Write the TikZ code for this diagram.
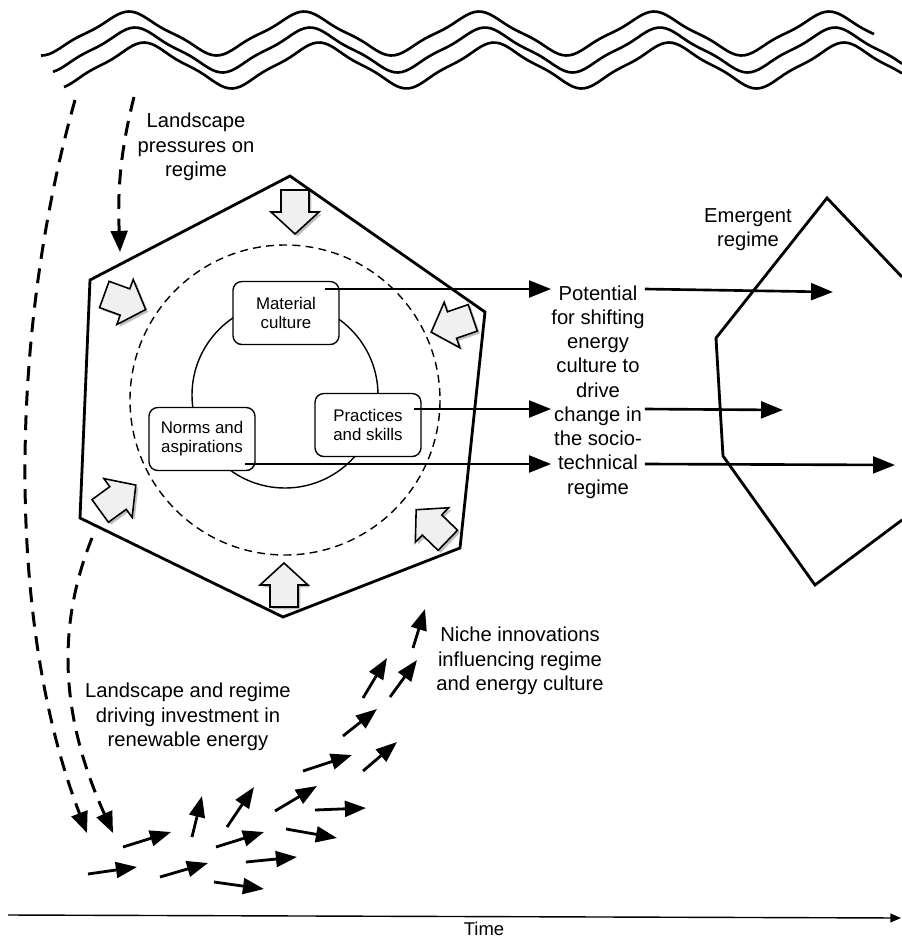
\documentclass[tikz,border=0pt]{standalone}
\usepackage{fontspec}
\setmainfont{Liberation Sans}
\usetikzlibrary{arrows.meta,shadows}

\tikzset{barrow/.pic={
  \draw[line width=0.9pt, fill=gray!12, line join=miter,
        drop shadow={opacity=0.5, shadow xshift=1.4pt, shadow yshift=-1.4pt}]
    (-22,-14) -- (0,-14) -- (0,-24) -- (22,0) -- (0,24) -- (0,14) -- (-22,14) -- cycle;
}}

\begin{document}
\begin{tikzpicture}[x=0.02cm,y=-0.02cm,
  declare function={tw(\t)=(cos(\t)+cos(3*\t)/9)/1.111;}]
\tikzstyle{wave} = [line width=1.5pt, black]
\tikzstyle{regime} = [line width=1.6pt, black, line join=miter]
\tikzstyle{dasharrow} = [line width=1.7pt, dash pattern=on 8.5pt off 5.5pt, -{Triangle[length=12pt,width=9.5pt]}]
\tikzstyle{harrow} = [line width=1.5pt, -{Triangle[length=12.5pt,width=9.6pt]}]
\tikzstyle{niche} = [line width=1.6pt, -{Triangle[length=12pt,width=9pt]}]
\tikzstyle{cult} = [draw, line width=0.8pt, rounded corners=5pt, fill=white, minimum width=2.12cm, minimum height=1.26cm, align=center, inner sep=1pt, font=\fontsize{9.6}{10.8}\selectfont]
\tikzstyle{lbl} = [align=center, inner sep=0pt, font=\fontsize{11.5}{13.8}\selectfont]
\useasboundingbox (0,0) rectangle (902,941);

% landscape waves
\draw[wave] plot[domain=41:874, samples=220, smooth] (\x,{33.5-22*tw((\x-129)/175*360)});
\draw[wave] plot[domain=53:902, samples=220, smooth] (\x,{50-22.5*tw((\x-135)/175*360)});
\draw[wave] plot[domain=64:902, samples=220, smooth] (\x,{65.5-23*tw((\x-144)/175*360)});

% current regime
\draw[regime] (290,176) -- (485,312) -- (460,548) -- (283,617) -- (80,518) -- (90,280) -- cycle;
\draw[line width=0.8pt, dash pattern=on 4.5pt off 3pt] (285,400) circle (155);
\draw[line width=0.8pt] (285,395) circle (93);

\pic[rotate=-90] at (295,212) {barrow};
\pic[rotate=-20] at (125,302) {barrow};
\pic[rotate=199] at (452,325) {barrow};
\pic[rotate=36] at (118,498) {barrow};
\pic[rotate=136] at (432,525) {barrow};
\pic[rotate=90] at (284,585) {barrow};

\node[cult] (mat) at (286,313) {Material\\culture};
\node[cult] (prac) at (368,425) {Practices\\and skills};
\node[cult] (norm) at (202,439) {Norms and\\aspirations};

% emergent regime
\draw[regime] (902,277) -- (827,198) -- (716,338) -- (723,456) -- (815,585) -- (902,520);

\node[lbl] (press) at (196,147) {Landscape\\pressures on\\regime};
\node[lbl] (emer) at (748,230) {Emergent\\regime};
\node[lbl] (pot) at (598,392) {Potential\\for shifting\\energy\\culture to\\drive\\change in\\the socio-\\technical\\regime};
\node[lbl] (nichetxt) at (520,661) {Niche innovations\\influencing regime\\and energy culture};
\node[lbl] (drive) at (188,717) {Landscape and regime\\driving investment in\\renewable energy};
\node[inner sep=0pt, font=\fontsize{10.5}{12}\selectfont] (time) at (484,929) {Time};

% culture to regime
\coordinate (m1) at (325,289);
\coordinate (m2) at (414,409);
\coordinate (m3) at (245,464);
\coordinate (e1) at (833,292);
\coordinate (e2) at (783,410);
\coordinate (e3) at (895,465);
\draw[harrow] (m1) -- (m1 -| pot.west);
\draw[harrow] (m2) -- (m2 -| pot.west);
\draw[harrow] (m3) -- (m3 -| pot.west);
\draw[harrow] (m1 -| pot.east) -- (e1);
\draw[harrow] (m2 -| pot.east) -- (e2);
\draw[harrow] (m3 -| pot.east) -- (e3);

% landscape pressures
\coordinate (l1) at (134,97);
\coordinate (l2) at (120,252);
\coordinate (l3) at (75,100);
\coordinate (l4) at (87,833);
\coordinate (l5) at (92,538);
\coordinate (l6) at (113,833);
\draw[dasharrow] (l1) .. controls (118,160) and (118,200) .. (l2);
\draw[dasharrow] (l3) .. controls (10,330) and (5,620) .. (l4);
\draw[dasharrow] (l5) .. controls (55,630) and (62,720) .. (l6);

% niche innovations
\foreach \a/\b/\c/\d in {123/847/171/832, 88/874/137/867, 160/877/208/863,
  192/837/202/796, 227/827/254/787, 216/847/264/832, 246/862/297/857,
  275/811/317/786, 286/829/337/838, 315/810/366/808, 303/771/352/755,
  363/771/397/742, 343/736/377/709, 363/698/387/658, 390/697/417/660,
  413/648/425/609, 214/882/264/889}
  \draw[niche] (\a,\b) -- (\c,\d);

% time
\coordinate (t0) at (8,915);
\coordinate (t1) at (901,918);
\draw[line width=0.8pt, -{Triangle[length=6pt,width=5pt]}] (t0) -- (t1);
\end{tikzpicture}
\end{document}
